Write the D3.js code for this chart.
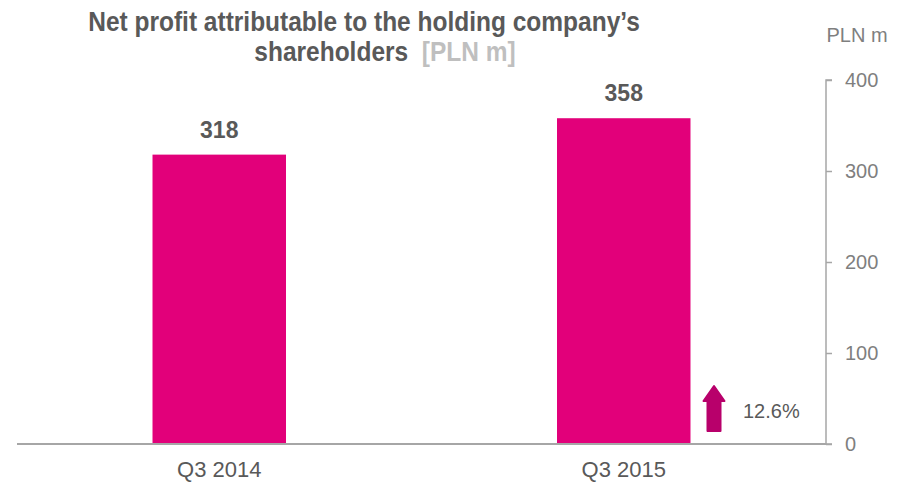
<!DOCTYPE html>
<html lang="en">
  <head>
    <meta charset="UTF-8" />
    <script src="https://d3js.org/d3.v7.min.js"></script>
    <title>Net profit</title>
    <style>
      body { margin: 0; background: #fff; }
      text { font-family: "Liberation Sans", Arial, sans-serif; }
    </style>
  </head>
  <body>
  </body>
</html>
<script>
const width = 905;
const height = 486;

const categories = ["Q3 2014", "Q3 2015"];
const values = [318, 358];
const yTicks = [0, 100, 200, 300, 400];
const changeLabel = "12.6%";

let svg = d3.select("body").append("svg")
  .attr("width", width)
  .attr("height", height);

let xScale = d3.scaleBand()
  .domain(categories)
  .range([17, 826])
  .paddingInner(0.67)
  .paddingOuter(0.335);

let yScale = d3.scaleLinear()
  .domain([0, 400])
  .range([444, 80]);

// title (a bit taller than wide, like the source)
let t1 = svg.append("text")
  .attr("transform", "translate(364,31) scale(1,1.1)")
  .attr("text-anchor", "middle")
  .attr("font-size", "24.5px")
  .attr("font-weight", "bold")
  .attr("fill", "#595959")
  .text("Net profit attributable to the holding company\u2019s");
let t2 = svg.append("text")
  .attr("transform", "translate(385,61) scale(1,1.1)")
  .attr("text-anchor", "middle")
  .attr("font-size", "24.5px")
  .attr("font-weight", "bold")
  .attr("fill", "#595959");
t2.append("tspan").text("shareholders\u00a0 ");
t2.append("tspan").attr("fill", "#bfbfbf").text("[PLN m]");

// unit label
svg.append("text")
  .attr("x", 857).attr("y", 42)
  .attr("text-anchor", "middle")
  .attr("font-size", "20px")
  .attr("fill", "#7f7f7f")
  .text("PLN m");

// bars
svg.selectAll(".bar")
  .data(values)
  .enter()
  .append("rect")
  .attr("class", "bar")
  .attr("x", (d, i) => xScale(categories[i]))
  .attr("width", xScale.bandwidth())
  .attr("y", d => yScale(d))
  .attr("height", d => yScale(0) - yScale(d))
  .attr("fill", "#e2007a");

// value labels
svg.selectAll(".val")
  .data(values)
  .enter()
  .append("text")
  .attr("class", "val")
  .attr("x", (d, i) => xScale(categories[i]) + xScale.bandwidth() / 2)
  .attr("y", d => yScale(d) - 17)
  .attr("text-anchor", "middle")
  .attr("font-size", "23px")
  .attr("font-weight", "bold")
  .attr("fill", "#595959")
  .text(d => d);

// right axis
let yAxis = d3.axisRight(yScale).tickValues(yTicks).tickSize(6).tickPadding(13);
let ag = svg.append("g")
  .attr("transform", "translate(826,0)")
  .call(yAxis);
ag.select(".domain").attr("stroke", "#a6a6a6").attr("stroke-width", 1.5)
  .attr("d", "M6," + yScale(400) + "H0V" + yScale(0) + "H6");
ag.selectAll(".tick line").attr("stroke", "#a6a6a6").attr("stroke-width", 1.5);
ag.selectAll(".tick text")
  .attr("font-family", "Liberation Sans, Arial, sans-serif")
  .attr("font-size", "20px")
  .attr("fill", "#7f7f7f");

// baseline / category axis
let xAxis = d3.axisBottom(xScale).tickSize(0).tickPadding(17);
let xg = svg.append("g")
  .attr("transform", "translate(0," + yScale(0) + ")")
  .call(xAxis);
xg.select(".domain").attr("stroke", "#a6a6a6").attr("stroke-width", 2)
  .attr("d", "M17,0H826");
xg.selectAll(".tick text")
  .attr("font-family", "Liberation Sans, Arial, sans-serif")
  .attr("font-size", "22px")
  .attr("fill", "#595959");

// growth arrow
let ax = 714, atop = 386, abot = 431;
svg.append("path")
  .attr("d", "M" + (ax - 6.5) + "," + abot + " V" + (atop + 15) +
        " H" + (ax - 10.5) + " L" + ax + "," + atop + " L" + (ax + 10.5) + "," + (atop + 15) +
        " H" + (ax + 6.5) + " V" + abot + " Z")
  .attr("fill", "#b8006b")
  .attr("stroke", "#b8006b")
  .attr("stroke-width", 2)
  .attr("stroke-linejoin", "round");

svg.append("text")
  .attr("x", 743).attr("y", 418)
  .attr("font-size", "20px")
  .attr("fill", "#595959")
  .text(changeLabel);
</script>
